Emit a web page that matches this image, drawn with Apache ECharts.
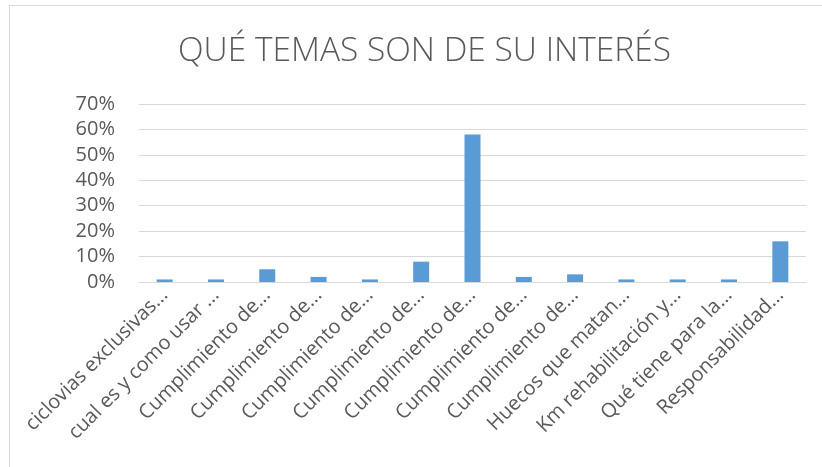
<!DOCTYPE html>
<html>
<head>
<meta charset="utf-8">
<script src="https://cdn.jsdelivr.net/npm/echarts@6/dist/echarts.min.js"></script>
<style>
  html, body { margin: 0; padding: 0; background: #fff; }
  #frame { position: absolute; left: 9px; top: 5px; width: 830px; height: 480px; border: 1px solid #d9d9d9; border-width: 1px 0 0 1px; }
  #main { position: absolute; left: 0; top: 0; width: 822px; height: 467px; }
</style>
</head>
<body>
<div id="frame"></div>
<div id="main"></div>
<script>
// categorías (tal como aparecen truncadas en el gráfico)
var categories = [
    'ciclovias exclusivas...',
    'cual es y como usar ...',
    'Cumplimiento de...',
    'Cumplimiento de...',
    'Cumplimiento de...',
    'Cumplimiento de...',
    'Cumplimiento de...',
    'Cumplimiento de...',
    'Cumplimiento de...',
    'Huecos que matan...',
    'Km rehabilitación y...',
    'Qué tiene para la...',
    'Responsabilidad...'
];
// porcentaje de respuestas
var values = [1, 1, 5, 2, 1, 8, 58, 2, 3, 1, 1, 1, 16];
var yTicks = [0, 10, 20, 30, 40, 50, 60, 70];

var myChart = echarts.init(document.getElementById('main'));
myChart.setOption({
    animation: false,
    title: {
        text: 'QUÉ TEMAS SON DE SU INTERÉS',
        left: 173,
        top: 29,
        textStyle: {
            fontFamily: 'Open Sans',
            fontWeight: 300,
            fontSize: 33.5,
            color: '#595959'
        }
    },
    grid: { left: 139, right: 16, top: 104, bottom: 185 },
    xAxis: {
        type: 'category',
        data: categories,
        axisTick: { show: false },
        axisLine: { lineStyle: { color: '#d9d9d9', width: 1 } },
        axisLabel: {
            interval: 0,
            rotate: 45,
            margin: 10,
            color: '#595959',
            fontFamily: 'Open Sans',
            fontSize: 20
        }
    },
    yAxis: {
        type: 'value',
        min: yTicks[0],
        max: yTicks[yTicks.length - 1],
        interval: 10,
        axisLine: { show: false },
        axisTick: { show: false },
        splitLine: { lineStyle: { color: '#d9d9d9', width: 1 } },
        axisLabel: {
            margin: 24,
            color: '#595959',
            fontFamily: 'Open Sans',
            fontSize: 20,
            formatter: '{value}%'
        }
    },
    series: [{
        type: 'bar',
        data: values,
        barWidth: 16,
        itemStyle: { color: '#5b9bd5' }
    }]
});
</script>
</body>
</html>
